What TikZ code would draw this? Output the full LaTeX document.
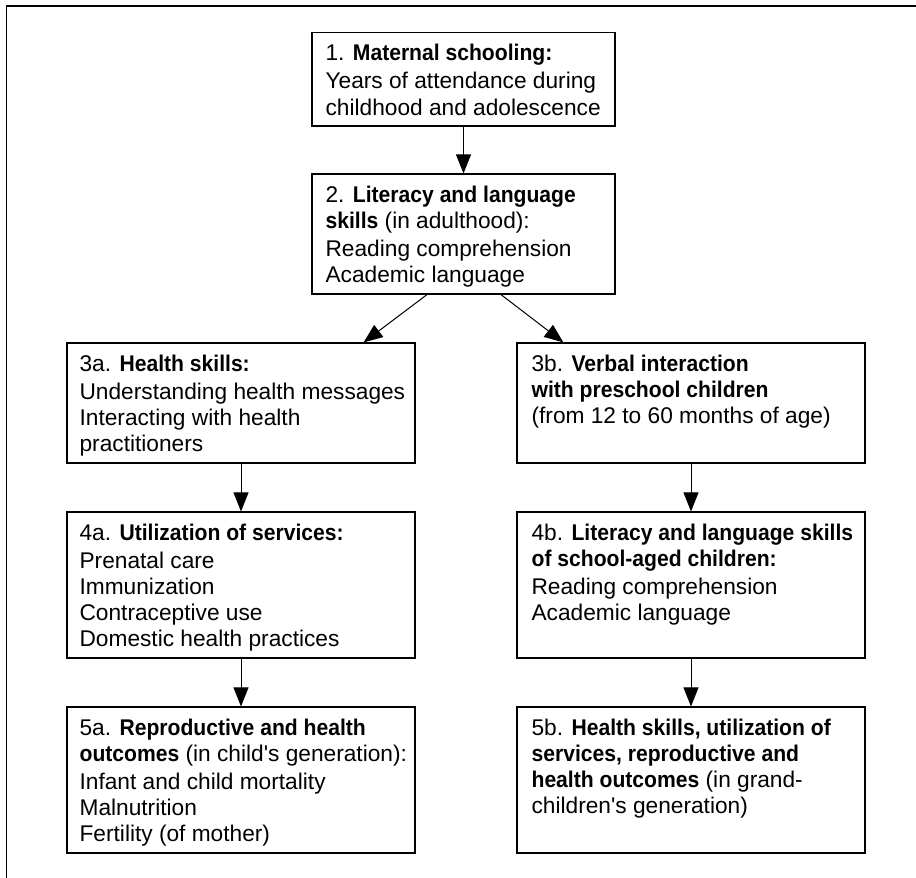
\documentclass[tikz,border=0pt]{standalone}
\usepackage{fontspec}
\setmainfont{Liberation Sans}[BoldFeatures={FakeStretch=0.93}]
\usetikzlibrary{arrows.meta}
\tikzset{
  box/.style={shape=rectangle,draw=black,line width=1.2pt,minimum width=348pt},
  txt/.style={anchor=north west,inner sep=0pt,align=left,font=\fontsize{22.7}{26.2}\selectfont},
  arr/.style={-{Triangle[width=15pt,length=19pt]},line width=1pt},
}
\begin{document}
\begin{tikzpicture}[x=1pt,y=-1pt]
        \useasboundingbox (0,0) rectangle (916,878);
        \draw[line width=1.8pt] (916,6) -- (6.5,6) -- (6.5,878);
        \node[box,minimum width=303pt,minimum height=93.3pt] (b1) at (463.5,79.35) {};
        \node[box,minimum width=303pt,minimum height=120pt] (b2) at (463.5,234) {};
        \node[box,minimum height=120pt] (b3a) at (241,403) {};
        \node[box,minimum height=120pt] (b3b) at (691,403) {};
        \node[box,minimum height=146pt] (b4a) at (241,585) {};
        \node[box,minimum height=146pt] (b4b) at (691,585) {};
        \node[box,minimum height=146pt] (b5a) at (241,780) {};
        \node[box,minimum height=146pt] (b5b) at (691,780) {};
        \node[txt] (t1) at ([xshift=14pt,yshift=-12pt]b1.north west) {1. \textbf{Maternal schooling:}\\[2pt]Years of attendance during\\childhood and adolescence};
        \node[txt] (t2) at ([xshift=14pt,yshift=-12pt]b2.north west) {2. \textbf{Literacy and language}\\\textbf{skills} (in adulthood):\\[2pt]Reading comprehension\\Academic language};
        \node[txt] (t3a) at ([xshift=13pt,yshift=-12pt]b3a.north west) {3a. \textbf{Health skills:}\\[2pt]Understanding health messages\\Interacting with health\\practitioners};
        \node[txt] (t3b) at ([xshift=15pt,yshift=-12pt]b3b.north west) {3b. \textbf{Verbal interaction}\\\textbf{with preschool children}\\(from 12 to 60 months of age)};
        \node[txt] (t4a) at ([xshift=13pt,yshift=-12pt]b4a.north west) {4a. \textbf{Utilization of services:}\\[2pt]Prenatal care\\Immunization\\Contraceptive use\\Domestic health practices};
        \node[txt] (t4b) at ([xshift=15pt,yshift=-12pt]b4b.north west) {4b. \textbf{Literacy and language skills}\\\textbf{of school-aged children:}\\[2pt]Reading comprehension\\Academic language};
        \node[txt] (t5a) at ([xshift=13pt,yshift=-12pt]b5a.north west) {5a. \textbf{Reproductive and health}\\\textbf{outcomes} (in child\textquotesingle s generation):\\[2pt]Infant and child mortality\\Malnutrition\\Fertility (of mother)};
        \node[txt] (t5b) at ([xshift=15pt,yshift=-12pt]b5b.north west) {5b. \textbf{Health skills, utilization of}\\\textbf{services, reproductive and}\\\textbf{health outcomes} (in grand-\\children\textquotesingle s generation)};
        \path [arr] (b1) edge (b2);
        \path [arr] ([xshift=-36.5pt]b2.south) edge ([xshift=-52pt]b3a.north east);
        \path [arr] ([xshift=37.5pt]b2.south) edge ([xshift=47pt]b3b.north west);
        \path [arr] (b3a) edge (b4a);
        \path [arr] (b4a) edge (b5a);
        \path [arr] (b3b) edge (b4b);
        \path [arr] (b4b) edge (b5b);
\end{tikzpicture}
\end{document}
